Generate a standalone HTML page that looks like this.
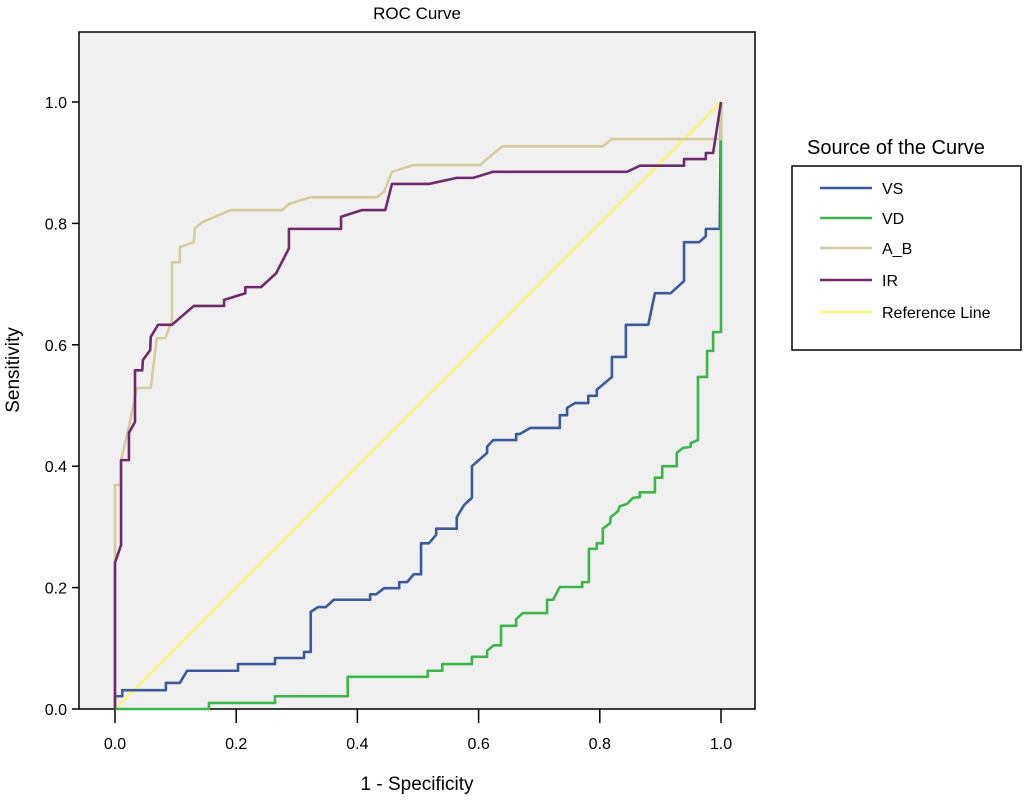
<!DOCTYPE html>
<html><head><meta charset="utf-8"><style>
html,body{margin:0;padding:0;background:#fff;}
svg{display:block;font-family:"Liberation Sans",Arial,sans-serif;}
</style></head><body>
<svg id="chart" width="1024" height="802" viewBox="0 0 1024 802" xmlns="http://www.w3.org/2000/svg">
<text x="417" y="19" font-size="17" text-anchor="middle" fill="#000">ROC Curve</text>
<rect x="79" y="32" width="676" height="677" fill="#f0f0f0" stroke="#000" stroke-width="1.5"/>
<g id="ticks"></g>
<g id="series"></g>
<text x="417" y="790" font-size="19" text-anchor="middle">1 - Specificity</text>
<text transform="translate(19,370) rotate(-90)" font-size="19" text-anchor="middle">Sensitivity</text>
<g>
<text x="807" y="154" font-size="20">Source of the Curve</text>
<rect x="792" y="166" width="229" height="184" fill="#fff" stroke="#000" stroke-width="1.5"/>
<g id="legend-items"></g>
</g>
</svg>
<script>
const xTicks=[0,0.2,0.4,0.6,0.8,1.0];
const yTicks=[0,0.2,0.4,0.6,0.8,1.0];
const seriesNames=["VS","VD","A_B","IR","Reference Line"];
const seriesColors=["#3b5a9a","#3cb54a","#d4cc9c","#6e2a6c","#fff27a"];
const vsX=[0,0,.012,.012,.084,.084,.107,.119,.203,.203,.264,.264,.312,.312,.323,.323,.335,.348,.361,.421,.421,.431,.444,.469,.469,.482,.493,.505,.505,.518,.530,.530,.564,.564,.576,.589,.589,.614,.614,.624,.662,.662,.668,.685,.734,.734,.746,.746,.759,.781,.781,.795,.795,.820,.820,.843,.843,.880,.891,.917,.939,.939,.964,.975,.975,.998,1];
const vsY=[0,.021,.021,.031,.031,.043,.043,.063,.063,.074,.074,.084,.084,.094,.094,.160,.168,.168,.180,.180,.189,.189,.199,.199,.209,.209,.222,.222,.273,.273,.287,.297,.297,.316,.336,.348,.400,.422,.432,.443,.443,.453,.453,.463,.463,.484,.484,.496,.504,.504,.516,.516,.526,.547,.580,.580,.633,.633,.685,.685,.705,.769,.769,.779,.791,.791,1];
const vdX=[0,.155,.155,.264,.264,.384,.384,.516,.516,.540,.540,.589,.589,.614,.614,.625,.637,.637,.662,.662,.673,.713,.713,.723,.734,.771,.771,.782,.782,.795,.795,.805,.805,.817,.818,.830,.833,.845,.855,.866,.866,.891,.891,.903,.903,.927,.927,.937,.950,.950,.962,.962,.977,.977,.987,.987,1,1];
const vdY=[0,0,.010,.010,.021,.021,.053,.053,.063,.063,.074,.074,.086,.086,.096,.105,.105,.137,.137,.148,.158,.158,.180,.180,.201,.201,.209,.209,.264,.264,.273,.273,.297,.306,.316,.326,.334,.338,.348,.349,.357,.357,.381,.381,.400,.400,.422,.430,.432,.438,.443,.547,.547,.590,.590,.621,.621,1];
const abX=[0,0,.010,.010,.023,.036,.059,.069,.083,.094,.094,.107,.107,.130,.132,.144,.191,.276,.287,.323,.432,.444,.457,.492,.602,.639,.805,.820,1,1];
const abY=[0,.369,.369,.41,.465,.529,.529,.611,.611,.641,.736,.736,.761,.769,.792,.802,.822,.822,.832,.843,.843,.852,.885,.896,.896,.927,.927,.939,.939,1];
const irX=[0,0,.010,.010,.023,.023,.033,.033,.045,.046,.058,.059,.071,.094,.130,.180,.180,.215,.215,.241,.266,.287,.287,.373,.373,.408,.446,.457,.518,.564,.591,.624,.845,.866,.939,.939,.975,.975,.987,1];
const irY=[0,.241,.270,.410,.410,.455,.473,.558,.558,.575,.591,.613,.633,.633,.664,.664,.674,.685,.695,.695,.718,.759,.791,.791,.811,.822,.822,.865,.865,.875,.875,.885,.885,.895,.895,.906,.906,.916,.916,1];
const refX=[0,1];
const refY=[0,1];
const allX=[vsX,vdX,abX,irX,refX];
const allY=[vsY,vdY,abY,irY,refY];
const drawOrder=[4,0,1,2,3];

const NS="http://www.w3.org/2000/svg";
const sx=v=>115+v*606;
const sy=v=>709-v*607;
const tg=document.getElementById('ticks');
xTicks.forEach(t=>{
  const l=document.createElementNS(NS,'line');
  l.setAttribute('x1',sx(t));l.setAttribute('x2',sx(t));l.setAttribute('y1',709);l.setAttribute('y2',723);
  l.setAttribute('stroke','#000');l.setAttribute('stroke-width','1.5');
  
  
  tg.appendChild(l);
  const tx=document.createElementNS(NS,'text');
  tx.setAttribute('x',sx(t));tx.setAttribute('y',749);tx.setAttribute('font-size','16');tx.setAttribute('text-anchor','middle');
  tx.textContent=t.toFixed(1);
  
  
  tg.appendChild(tx);
});
yTicks.forEach(t=>{
  const l=document.createElementNS(NS,'line');
  l.setAttribute('x1',72);l.setAttribute('x2',79);l.setAttribute('y1',sy(t));l.setAttribute('y2',sy(t));
  l.setAttribute('stroke','#000');l.setAttribute('stroke-width','1.5');
  
  
  tg.appendChild(l);
  const tx=document.createElementNS(NS,'text');
  tx.setAttribute('x',67);tx.setAttribute('y',sy(t)+6);tx.setAttribute('font-size','16');tx.setAttribute('text-anchor','end');
  tx.textContent=t.toFixed(1);
  
  
  tg.appendChild(tx);
});
const sg=document.getElementById('series');
drawOrder.forEach(i=>{
  const p=document.createElementNS(NS,'polyline');
  p.setAttribute('points',allX[i].map((x,k)=>sx(x)+','+sy(allY[i][k])).join(' '));
  p.setAttribute('fill','none');p.setAttribute('stroke',seriesColors[i]);
  p.setAttribute('stroke-width','2.6');p.setAttribute('stroke-linejoin','round');
  
  
  sg.appendChild(p);
});
const lg=document.getElementById('legend-items');
const legY=[188,218,248,280,312];
seriesNames.forEach((n,i)=>{
  const g=document.createElementNS(NS,'g');
  
  
  const l=document.createElementNS(NS,'line');
  l.setAttribute('x1',820);l.setAttribute('x2',872);l.setAttribute('y1',legY[i]);l.setAttribute('y2',legY[i]);
  l.setAttribute('stroke',seriesColors[i]);l.setAttribute('stroke-width','2.6');
  g.appendChild(l);
  const t=document.createElementNS(NS,'text');
  t.setAttribute('x',882);t.setAttribute('y',legY[i]+6);t.setAttribute('font-size','16');
  t.textContent=n;
  g.appendChild(t);
  lg.appendChild(g);
});
</script>
</body></html>
